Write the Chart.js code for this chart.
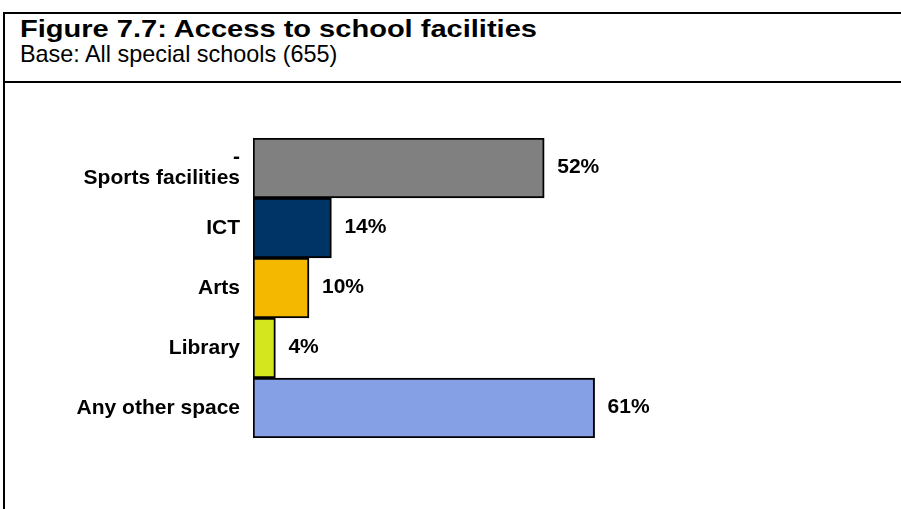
<!DOCTYPE html>
<html>
<head>
<meta charset="utf-8">
<script src="https://cdn.jsdelivr.net/npm/chart.js@4.4.1/dist/chart.umd.min.js"></script>
<style>
  html, body { margin: 0; padding: 0; background: #fff; }
  body { width: 901px; height: 509px; position: relative; overflow: hidden; font-family: "Liberation Sans", Arial, sans-serif; }
  #frame { position: absolute; left: 3px; top: 12px; width: 898px; height: 497px; border-left: 2px solid #000; border-top: 2px solid #000; box-sizing: border-box; }
  #divider { position: absolute; left: 3px; top: 81px; width: 898px; height: 2px; background: #000; }
  #title { position: absolute; left: 20px; top: 17px; font-weight: bold; font-size: 24px; line-height: 24px; color: #000; white-space: nowrap; transform: scaleX(1.21); transform-origin: 0 0; }
  #subtitle { position: absolute; left: 20px; top: 43px; font-size: 23.4px; line-height: 23px; color: #000; white-space: nowrap; }
  #c { position: absolute; left: 0; top: 0; }
</style>
</head>
<body>
<div id="frame"></div>
<div id="divider"></div>
<div id="title">Figure 7.7: Access to school facilities</div>
<div id="subtitle">Base: All special schools (655)</div>
<canvas id="c" width="901" height="509"></canvas>
<script>
const categories = [["-", "Sports facilities"], "ICT", "Arts", "Library", "Any other space"];
const values = [52, 14, 10, 4, 61];
const valueLabels = ["52%", "14%", "10%", "4%", "61%"];
const barColors = ["#808080", "#003366", "#F5B800", "#D4E61E", "#86A0E6"];

const valueLabelPlugin = {
  id: 'valueLabels',
  afterDatasetsDraw(chart) {
    const ctx = chart.ctx;
    const meta = chart.getDatasetMeta(0);
    ctx.save();
    ctx.font = 'bold 21px "Liberation Sans", Arial, sans-serif';
    ctx.fillStyle = '#000';
    ctx.textAlign = 'left';
    ctx.textBaseline = 'middle';
    meta.data.forEach((bar, i) => {
      ctx.fillText(valueLabels[i], bar.x + 13, bar.y - 1);
    });
    ctx.restore();
  }
};

new Chart(document.getElementById('c'), {
  type: 'bar',
  data: {
    labels: categories,
    datasets: [{
      data: values,
      backgroundColor: barColors,
      borderColor: '#000',
      borderWidth: 2,
      borderSkipped: false,
      barPercentage: 1,
      categoryPercentage: 1
    }]
  },
  options: {
    indexAxis: 'y',
    responsive: false,
    animation: false,
    devicePixelRatio: 1,
    layout: { padding: { top: 138, bottom: 71, right: 88, left: 0 } },
    plugins: { legend: { display: false }, tooltip: { enabled: false }, title: { display: false } },
    scales: {
      x: { display: false, min: 0, max: 100 },
      y: {
        afterFit(scale) { scale.width = 253; },
        grid: { display: false, drawTicks: false },
        border: { display: false },
        ticks: {
          color: '#000',
          padding: 13,
          font: { family: '"Liberation Sans", Arial, sans-serif', size: 21, weight: 'bold', lineHeight: 1.0 }
        }
      }
    }
  },
  plugins: [valueLabelPlugin]
});
</script>
</body>
</html>
